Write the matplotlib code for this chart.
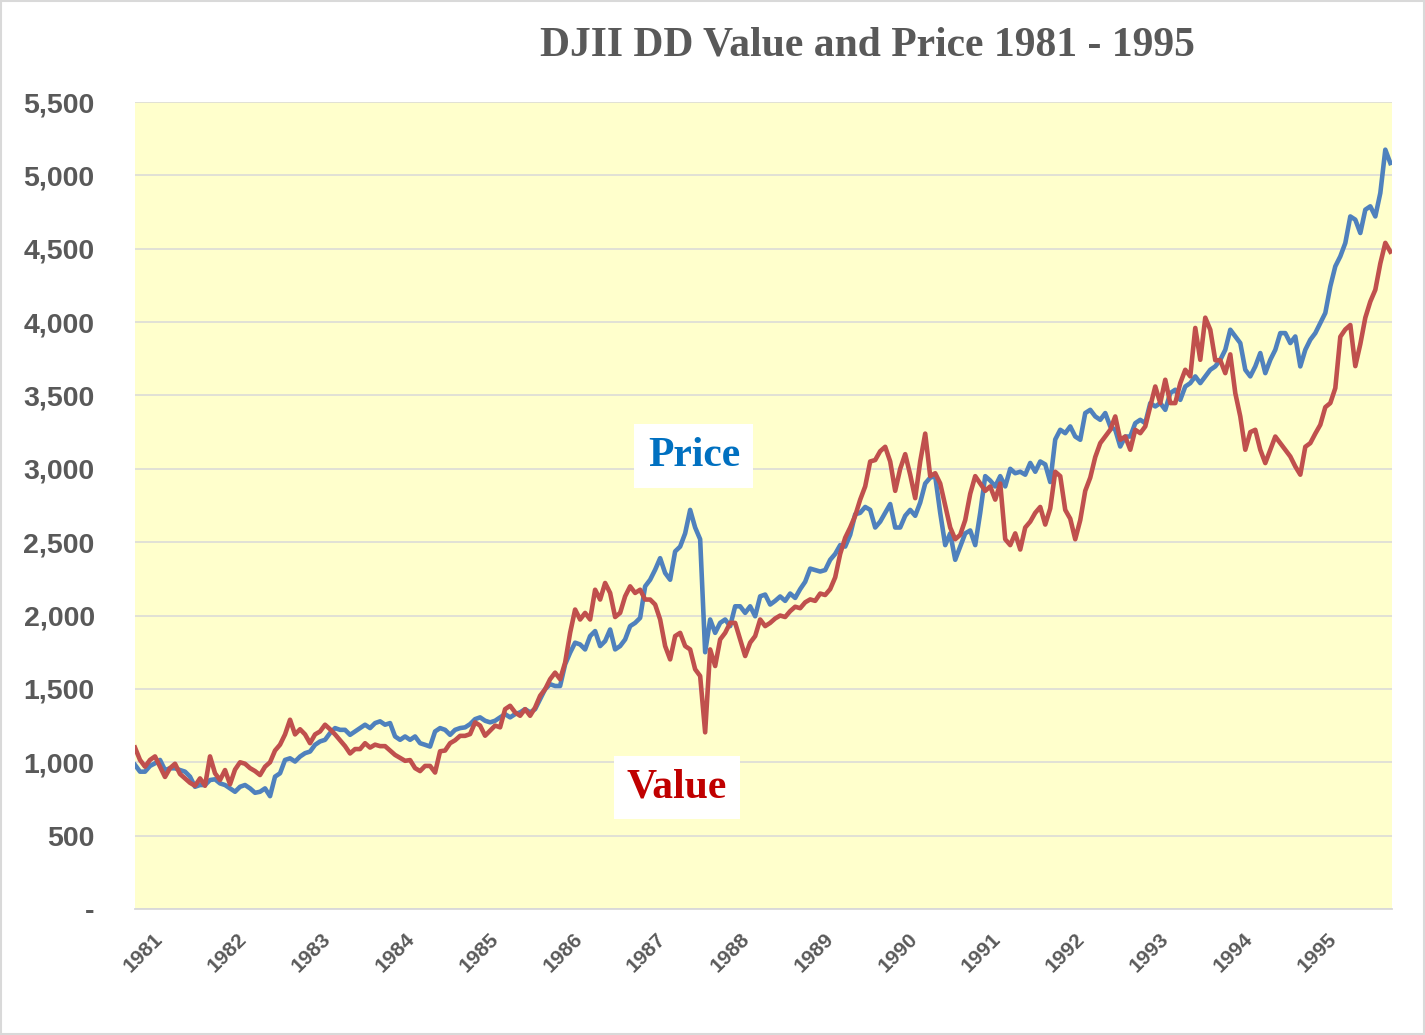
import numpy as np
import matplotlib
matplotlib.use("Agg")
import matplotlib.pyplot as plt
from matplotlib.patches import Rectangle
from matplotlib.transforms import ScaledTranslation

# ---------------- data (sampled roughly every 3 weeks, Jan 1981 - Dec 1995) ----------------
price = [
    982, 936, 936, 975, 993, 1016, 947, 959, 959, 947,
    936, 902, 833, 845, 845, 879, 884, 856, 845, 822,
    799, 833, 845, 822, 792, 799, 822, 769, 902, 925,
    1016, 1027, 1005, 1039, 1062, 1073, 1119, 1142, 1153, 1199,
    1233, 1221, 1221, 1187, 1210, 1233, 1256, 1233, 1267, 1279,
    1256, 1267, 1176, 1153, 1176, 1153, 1176, 1130, 1119, 1107,
    1210, 1233, 1221, 1187, 1221, 1233,
    1238, 1260, 1294, 1306, 1283, 1272, 1283, 1306, 1328, 1306,
    1328, 1340, 1362, 1340, 1362, 1430, 1498, 1532, 1520, 1520,
    1667, 1747, 1815, 1803, 1769, 1860, 1894, 1792, 1826, 1905,
    1769, 1792, 1837, 1928, 1950, 1984, 2199, 2244, 2312, 2391,
    2290, 2244, 2437, 2470, 2560, 2720, 2600, 2520, 1750, 1973,
    1882, 1950, 1973, 1928, 2063, 2063, 2018, 2063, 1995, 2131,
    2143, 2075,
    2100, 2130, 2100, 2150, 2120, 2180, 2230, 2320, 2310, 2300,
    2310, 2380, 2420, 2480, 2470, 2550, 2690, 2700, 2740, 2720,
    2600, 2640, 2700, 2760, 2600, 2600, 2680, 2720, 2680, 2770,
    2900, 2940, 2950, 2700, 2480, 2560, 2380, 2470, 2560, 2580,
    2480, 2700, 2950, 2920, 2880, 2950, 2880, 3000, 2970, 2980,
    2960, 3040, 2980, 3050, 3030, 2910, 3200,
    3266, 3243, 3289, 3220, 3198, 3380, 3402, 3357, 3334, 3380,
    3289, 3266, 3152, 3220, 3220, 3311, 3334, 3311, 3448, 3425,
    3448, 3402, 3516, 3539, 3470, 3561, 3584, 3630, 3584, 3630,
    3675, 3698, 3743, 3811, 3948, 3902, 3857, 3675, 3630, 3698,
    3789, 3652, 3743, 3811, 3925, 3925, 3857, 3902, 3698, 3811,
    3880, 3925, 3993, 4062, 4243, 4380, 4448, 4539, 4720, 4698,
    4607, 4766, 4789, 4720, 4880, 5175, 5084,
]

value = [
    1100, 1016, 970, 1016, 1040, 970, 900, 960, 990, 920,
    890, 860, 840, 890, 840, 1040, 925, 879, 947, 850,
    950, 1000, 990, 960, 940, 913, 970, 1000, 1080, 1120,
    1190, 1290, 1190, 1225, 1190, 1130, 1190, 1210, 1256, 1225,
    1190, 1150, 1110, 1060, 1090, 1090, 1130, 1100, 1120, 1110,
    1110, 1080, 1050, 1030, 1010, 1015, 960, 940, 975, 975,
    930, 1075, 1080, 1130, 1150, 1180,
    1180, 1192, 1272, 1250, 1181, 1215, 1250, 1238, 1362, 1385,
    1340, 1317, 1362, 1317, 1373, 1453, 1498, 1566, 1611, 1566,
    1679, 1882, 2041, 1973, 2018, 1973, 2176, 2109, 2222, 2154,
    1990, 2018, 2131, 2199, 2154, 2176, 2109, 2109, 2075, 1973,
    1792, 1701, 1860, 1882, 1792, 1769, 1634, 1588, 1204, 1769,
    1656, 1837, 1882, 1950, 1950, 1837, 1724, 1815, 1860, 1973,
    1928, 1950,
    1980, 2000, 1990, 2030, 2060, 2050, 2090, 2110, 2100, 2150,
    2140, 2180, 2260, 2420, 2530, 2600, 2680, 2790, 2880, 3050,
    3060, 3120, 3150, 3050, 2850, 3000, 3100, 2960, 2800, 3050,
    3240, 2950, 2970, 2900, 2750, 2600, 2520, 2550, 2650, 2830,
    2950, 2900, 2850, 2880, 2790, 2900, 2520, 2480, 2560, 2450,
    2600, 2640, 2700, 2740, 2620, 2730, 2980,
    2950, 2720, 2660, 2520, 2650,
    2850, 2940, 3080, 3175, 3220, 3266, 3357, 3198, 3220, 3130,
    3266, 3243, 3289, 3425, 3561, 3448, 3607, 3448, 3448, 3584,
    3675, 3630, 3960, 3743, 4030, 3948, 3740, 3740, 3652, 3780,
    3516, 3357, 3130, 3250, 3266, 3130, 3039, 3130, 3220, 3175,
    3130, 3084, 3016, 2960, 3150, 3175, 3240, 3300, 3420, 3448,
    3550, 3900, 3950, 3980, 3700, 3850, 4030, 4140, 4220, 4400,
    4540, 4480,
]

start_year = 1981.0
end_year = 1995.98
years = list(range(1981, 1996))
y_ticks = list(range(0, 5501, 500))
title = "DJII DD Value and Price 1981 - 1995"

dates = np.linspace(start_year, end_year, len(price))

# ---------------- figure ----------------
W, H = 1425, 1035
fig = plt.figure(figsize=(W / 100, H / 100), dpi=100)
fig.patch.set_facecolor("white")
ax = fig.add_axes([135 / W, 1 - 909 / H, (1392 - 135) / W, (909 - 102) / H])
ax.set_facecolor("#FFFFCC")

ax.plot(dates, price, color="#4F81BD", lw=3.3, solid_joinstyle="round", zorder=3)
ax.plot(dates, value, color="#C0504D", lw=3.3, solid_joinstyle="round", zorder=4)

ax.set_xlim(1981.0, 1996.0)
ax.set_ylim(0, 5500)

ax.set_yticks(y_ticks)
ax.set_yticklabels(["-" if v == 0 else f"{v:,}" for v in y_ticks])
ax.yaxis.grid(True, color="#D9D9D9", lw=1.1, zorder=0)
ax.set_axisbelow(True)
ax.tick_params(axis="y", length=0, pad=29, labelsize=20.5, labelcolor="#595959")
for lab in ax.get_yticklabels():
    lab.set_fontfamily("Liberation Sans")
    lab.set_fontweight("bold")

ax.set_xticks(years)
ax.set_xticklabels([str(y) for y in years])
ax.tick_params(axis="x", length=0, pad=15, labelsize=15, labelcolor="#595959")
offset = ScaledTranslation(32 / 100, 0, fig.dpi_scale_trans)
for lab in ax.get_xticklabels():
    lab.set_fontfamily("Liberation Sans")
    lab.set_fontweight("bold")
    lab.set_rotation(45)
    lab.set_ha("right")
    lab.set_va("top")
    lab.set_transform(lab.get_transform() + offset)

for s in ["left", "right", "top"]:
    ax.spines[s].set_visible(False)
ax.spines["bottom"].set_color("#D9D9D9")
ax.spines["bottom"].set_linewidth(1.3)

# labels
ax.text(1987.67, 3087, "Price", color="#0070C0", fontsize=30, fontweight="bold",
        family="Liberation Serif", ha="center", va="center", zorder=6,
        bbox=dict(boxstyle="square,pad=0.32", fc="white", ec="none"))
ax.text(1987.47, 831, "Value", color="#C00000", fontsize=30, fontweight="bold",
        family="Liberation Serif", ha="center", va="center", zorder=6,
        bbox=dict(boxstyle="square,pad=0.3", fc="white", ec="none"))

fig.text(867.5 / W, 1 - 45 / H, title, color="#595959", fontsize=30,
         fontweight="bold", family="Liberation Serif", ha="center", va="center")

fig.patches.append(Rectangle((0.0005, 0.0005), 0.999, 0.999, transform=fig.transFigure,
                             fill=False, edgecolor="#D9D9D9", lw=1.5))

fig.savefig("out.png", dpi=100, facecolor="white")
